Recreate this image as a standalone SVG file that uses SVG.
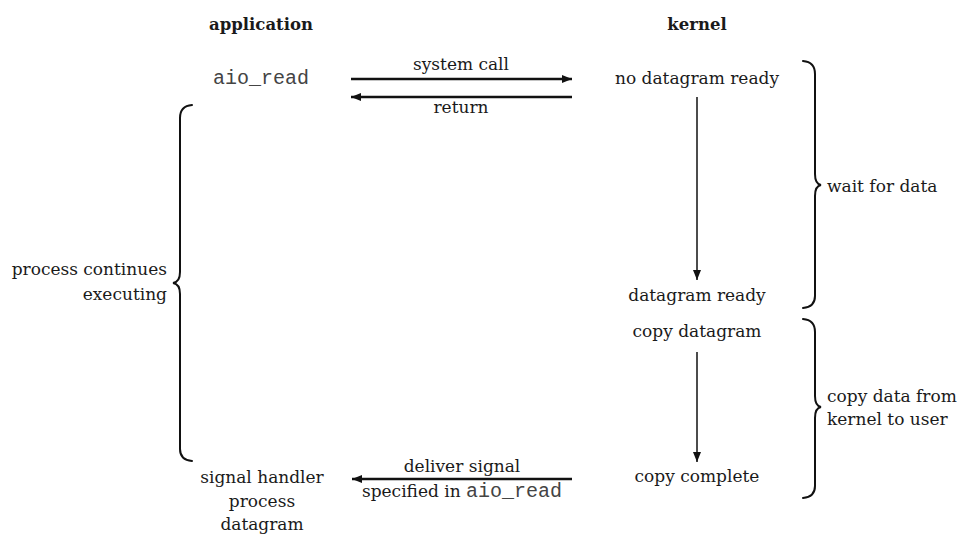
<svg xmlns="http://www.w3.org/2000/svg" width="964" height="535" viewBox="0 0 964 535">
<style>
  text { font-family: "DejaVu Serif", "Liberation Serif", serif; font-size: 17px; fill: #1a1a1a; }
  .hd { font-weight: bold; font-size: 16.5px; }
  .mono { font-family: "Liberation Mono", "DejaVu Sans Mono", monospace; font-size: 20px; fill: #444; }
  .mid { text-anchor: middle; }
  .end { text-anchor: end; }
  .thick { stroke: #111; stroke-width: 2.5; fill: none; }
  .thin { stroke: #111; stroke-width: 1.5; fill: none; }
  .brace { stroke: #111; stroke-width: 2; fill: none; stroke-linecap: round; }
</style>
<defs>
  <marker id="ah" viewBox="0 0 10 10" refX="10" refY="5" markerWidth="18" markerHeight="10" markerUnits="userSpaceOnUse" orient="auto">
    <path d="M0,1 L10,5 L0,9 z" fill="#111"/>
  </marker>
</defs>
<rect width="964" height="535" fill="#fff"/>

<g id="header-application"><text class="hd mid" x="261" y="30">application</text></g>
<g id="header-kernel"><text class="hd mid" x="697" y="30">kernel</text></g>

<g id="aio-read"><text class="mono mid" x="261" y="84">aio_read</text></g>
<g id="no-datagram-ready"><text class="mid" x="697" y="84">no datagram ready</text></g>
<g id="datagram-ready"><text class="mid" x="697" y="301">datagram ready</text></g>
<g id="copy-datagram"><text class="mid" x="697" y="337">copy datagram</text></g>
<g id="copy-complete"><text class="mid" x="697" y="482">copy complete</text></g>
<g id="signal-handler">
  <text class="mid" x="262" y="483">signal handler</text>
  <text class="mid" x="262" y="507">process</text>
  <text class="mid" x="262" y="530">datagram</text>
</g>

<g id="brace-process">
  <path class="brace" d="M192,105 Q180,106 180,118 L180,272 Q180,282 173,283 Q180,284 180,294 L180,449 Q180,460 192,461"/>
  <text class="end" x="167" y="275">process continues</text>
  <text class="end" x="167" y="300">executing</text>
</g>
<g id="brace-wait">
  <path class="brace" d="M803,61 Q815,62 815,74 L815,174 Q815,184 821,185 Q815,186 815,196 L815,296 Q815,307 803,308"/>
  <text x="827" y="192">wait for data</text>
</g>
<g id="brace-copy">
  <path class="brace" d="M803,319 Q815,320 815,332 L815,396 Q815,406 821,407 Q815,408 815,418 L815,486 Q815,497 803,498"/>
  <text x="827" y="402">copy data from</text>
  <text x="827" y="425">kernel to user</text>
</g>

<g id="connectors">
  <line class="thick" x1="351" y1="79" x2="572" y2="79" marker-end="url(#ah)"/>
  <text class="mid" x="461" y="70">system call</text>
  <line class="thick" x1="572" y1="97" x2="351" y2="97" marker-end="url(#ah)"/>
  <text class="mid" x="461" y="113">return</text>
  <line class="thin" x1="697" y1="97" x2="697" y2="280" marker-end="url(#ah)"/>
  <line class="thin" x1="697" y1="352" x2="697" y2="462" marker-end="url(#ah)"/>
  <line class="thick" x1="572" y1="479" x2="352" y2="479" marker-end="url(#ah)"/>
  <text class="mid" x="462" y="472">deliver signal</text>
  <text class="mid" x="462" y="497">specified in <tspan class="mono">aio_read</tspan></text>
</g>
</svg>
